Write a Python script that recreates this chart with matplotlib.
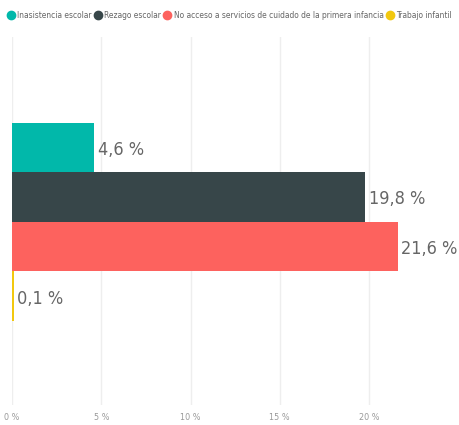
import matplotlib.pyplot as plt
from matplotlib.lines import Line2D

# datos
series = ["Inasistencia escolar", "Rezago escolar",
          "No acceso a servicios de cuidado de la primera infancia", "Trabajo infantil"]
values = [4.6, 19.8, 21.6, 0.1]
labels = ["4,6 %", "19,8 %", "21,6 %", "0,1 %"]
colors = ["#01B8AA", "#374649", "#FD625E", "#F2C80F"]
xticks = [0, 5, 10, 15, 20]
xticklabels = ["0 %", "5 %", "10 %", "15 %", "20 %"]

fnt = "DejaVu Sans"
st = "condensed"

fig = plt.figure(figsize=(4.59, 4.25), dpi=100)
ax = fig.add_axes([12/459, 20/425, 447/459, 368/425])

for i, (v, c, lab) in enumerate(zip(values, colors, labels)):
    ax.barh(i, v, height=1.0, color=c)
    ax.text(v + 0.2, i + 0.05, lab, va="center", ha="left", fontsize=13,
            color="#666666", family=fnt, stretch=st)

ax.set_ylim(5.2, -2.23)
ax.set_xlim(0, 25.04)
ax.set_yticks([])
ax.set_xticks(xticks)
ax.set_xticklabels(xticklabels, family=fnt, stretch=st, fontsize=6.5, color="#999999")
ax.tick_params(axis="x", length=0, pad=6)
ax.grid(axis="x", color="#eeeeee", linewidth=1)
ax.set_axisbelow(True)
for s in ax.spines.values():
    s.set_visible(False)

handles = [Line2D([], [], marker="o", linestyle="", markersize=6, color=c) for c in colors]
fig.legend(handles, series, loc="upper left", bbox_to_anchor=(0.005, 0.985), ncol=4,
           frameon=False, handletextpad=0.3, columnspacing=0.3, handlelength=0.9,
           prop={"family": fnt, "stretch": st, "size": 6.0}, labelcolor="#666666",
           borderaxespad=0.2)

fig.savefig("out.png", dpi=100, facecolor="white")
